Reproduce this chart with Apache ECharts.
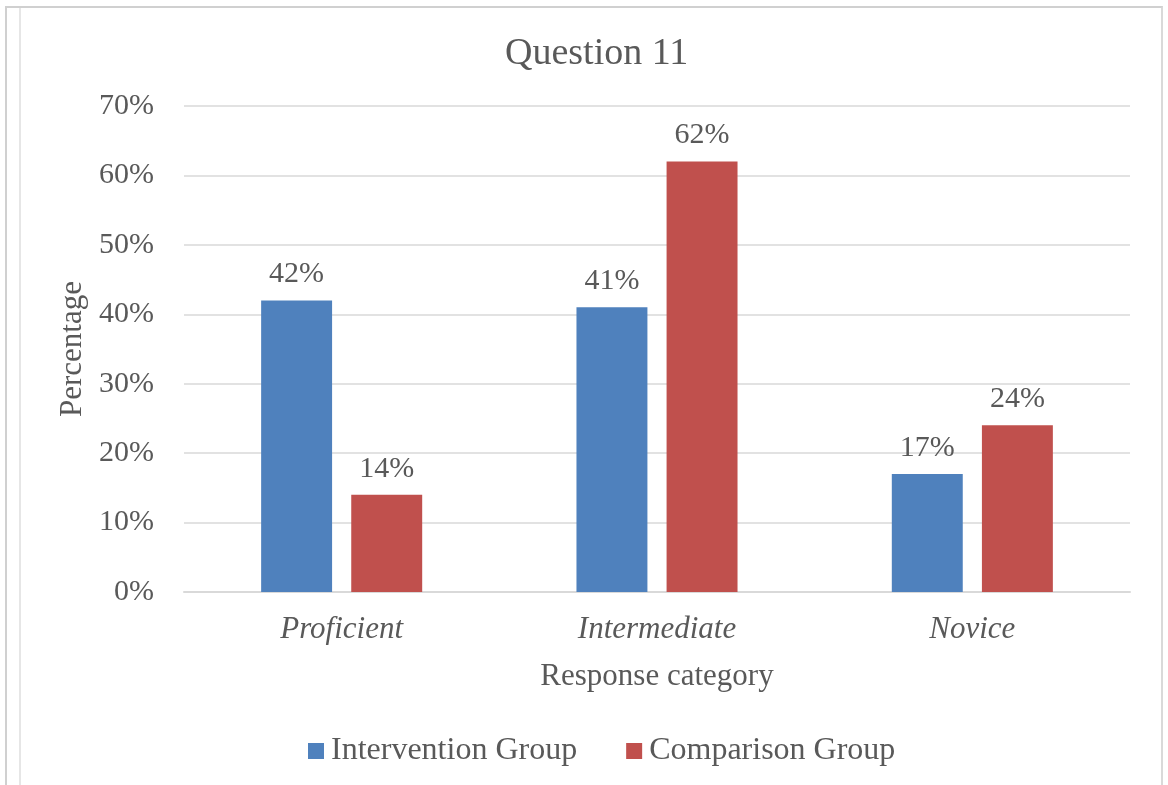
<!DOCTYPE html>
<html lang="en">
<head>
    <meta charset="UTF-8">
    <title>Question 11</title>
    <style>
        body {
            margin: 0;
            background-color: #ffffff;
        }

        #frame {
            position: absolute;
            left: 5px;
            top: 6px;
            width: 1154px;
            height: 790px;
            border-top: 2px solid #d0d0d0;
            border-left: 2px solid #d0d0d0;
            border-right: 2px solid #d9d9d9;
        }

        #inner {
            position: absolute;
            left: 19px;
            top: 8px;
            width: 0;
            height: 790px;
            border-left: 2px solid #e6e6e6;
        }

        #main {
            position: absolute;
            left: 0;
            top: 0;
            width: 1168px;
            height: 785px;
        }
    </style>
</head>
<body>
    <div id="frame"></div>
    <div id="inner"></div>
    <div id="main"></div>

    <script src="https://cdn.jsdelivr.net/npm/echarts/dist/echarts.min.js"></script>
    <script>
        // data
        var categories = ['Proficient', 'Intermediate', 'Novice'];
        var intervention = [42, 41, 17];
        var comparison = [14, 62, 24];
        var seriesNames = ['Intervention Group', 'Comparison Group'];

        var textColor = '#595959';
        var font = 'Liberation Serif';

        var myChart = echarts.init(document.getElementById('main'));
        var option = {
            animation: false,
            title: {
                text: 'Question 11',
                left: 500,
                top: 30,
                textStyle: {
                    fontFamily: font,
                    fontSize: 38,
                    fontWeight: 'normal',
                    color: textColor
                }
            },
            legend: {
                bottom: 13,
                left: 303,
                itemWidth: 16,
                itemHeight: 16,
                itemGap: 49,
                icon: 'rect',
                textStyle: {
                    fontFamily: font,
                    fontSize: 32,
                    color: textColor,
                    padding: [0, 0, 0, 2]
                },
                data: seriesNames
            },
            grid: {
                left: 184,
                right: 38,
                top: 106,
                bottom: 193
            },
            xAxis: {
                type: 'category',
                data: categories,
                name: 'Response category',
                nameLocation: 'middle',
                nameGap: 69,
                nameTextStyle: {
                    fontFamily: font,
                    fontSize: 31,
                    color: textColor
                },
                axisTick: { show: false },
                axisLine: { lineStyle: { color: '#d9d9d9', width: 2 } },
                axisLabel: {
                    fontFamily: font,
                    fontSize: 31,
                    fontStyle: 'italic',
                    color: textColor,
                    margin: 22
                }
            },
            yAxis: {
                type: 'value',
                min: 0,
                max: 70,
                interval: 10,
                name: 'Percentage',
                nameLocation: 'middle',
                nameGap: 92,
                nameTextStyle: {
                    fontFamily: font,
                    fontSize: 31,
                    color: textColor
                },
                axisLabel: {
                    formatter: '{value}%',
                    fontFamily: font,
                    fontSize: 30,
                    color: textColor,
                    margin: 30
                },
                splitLine: { lineStyle: { color: '#d9d9d9', width: 1.5 } }
            },
            series: [
                {
                    name: seriesNames[0],
                    type: 'bar',
                    data: intervention,
                    barWidth: '22.5%',
                    barGap: '27%',
                    itemStyle: { color: '#4f81bd' },
                    label: {
                        show: true,
                        position: 'top',
                        distance: 11,
                        formatter: '{c}%',
                        fontFamily: font,
                        fontSize: 30,
                        color: textColor
                    }
                },
                {
                    name: seriesNames[1],
                    type: 'bar',
                    data: comparison,
                    barWidth: '22.5%',
                    barGap: '27%',
                    itemStyle: { color: '#c0504d' },
                    label: {
                        show: true,
                        position: 'top',
                        distance: 11,
                        formatter: '{c}%',
                        fontFamily: font,
                        fontSize: 30,
                        color: textColor
                    }
                }
            ]
        };

        option && myChart.setOption(option);
    </script>
</body>
</html>
